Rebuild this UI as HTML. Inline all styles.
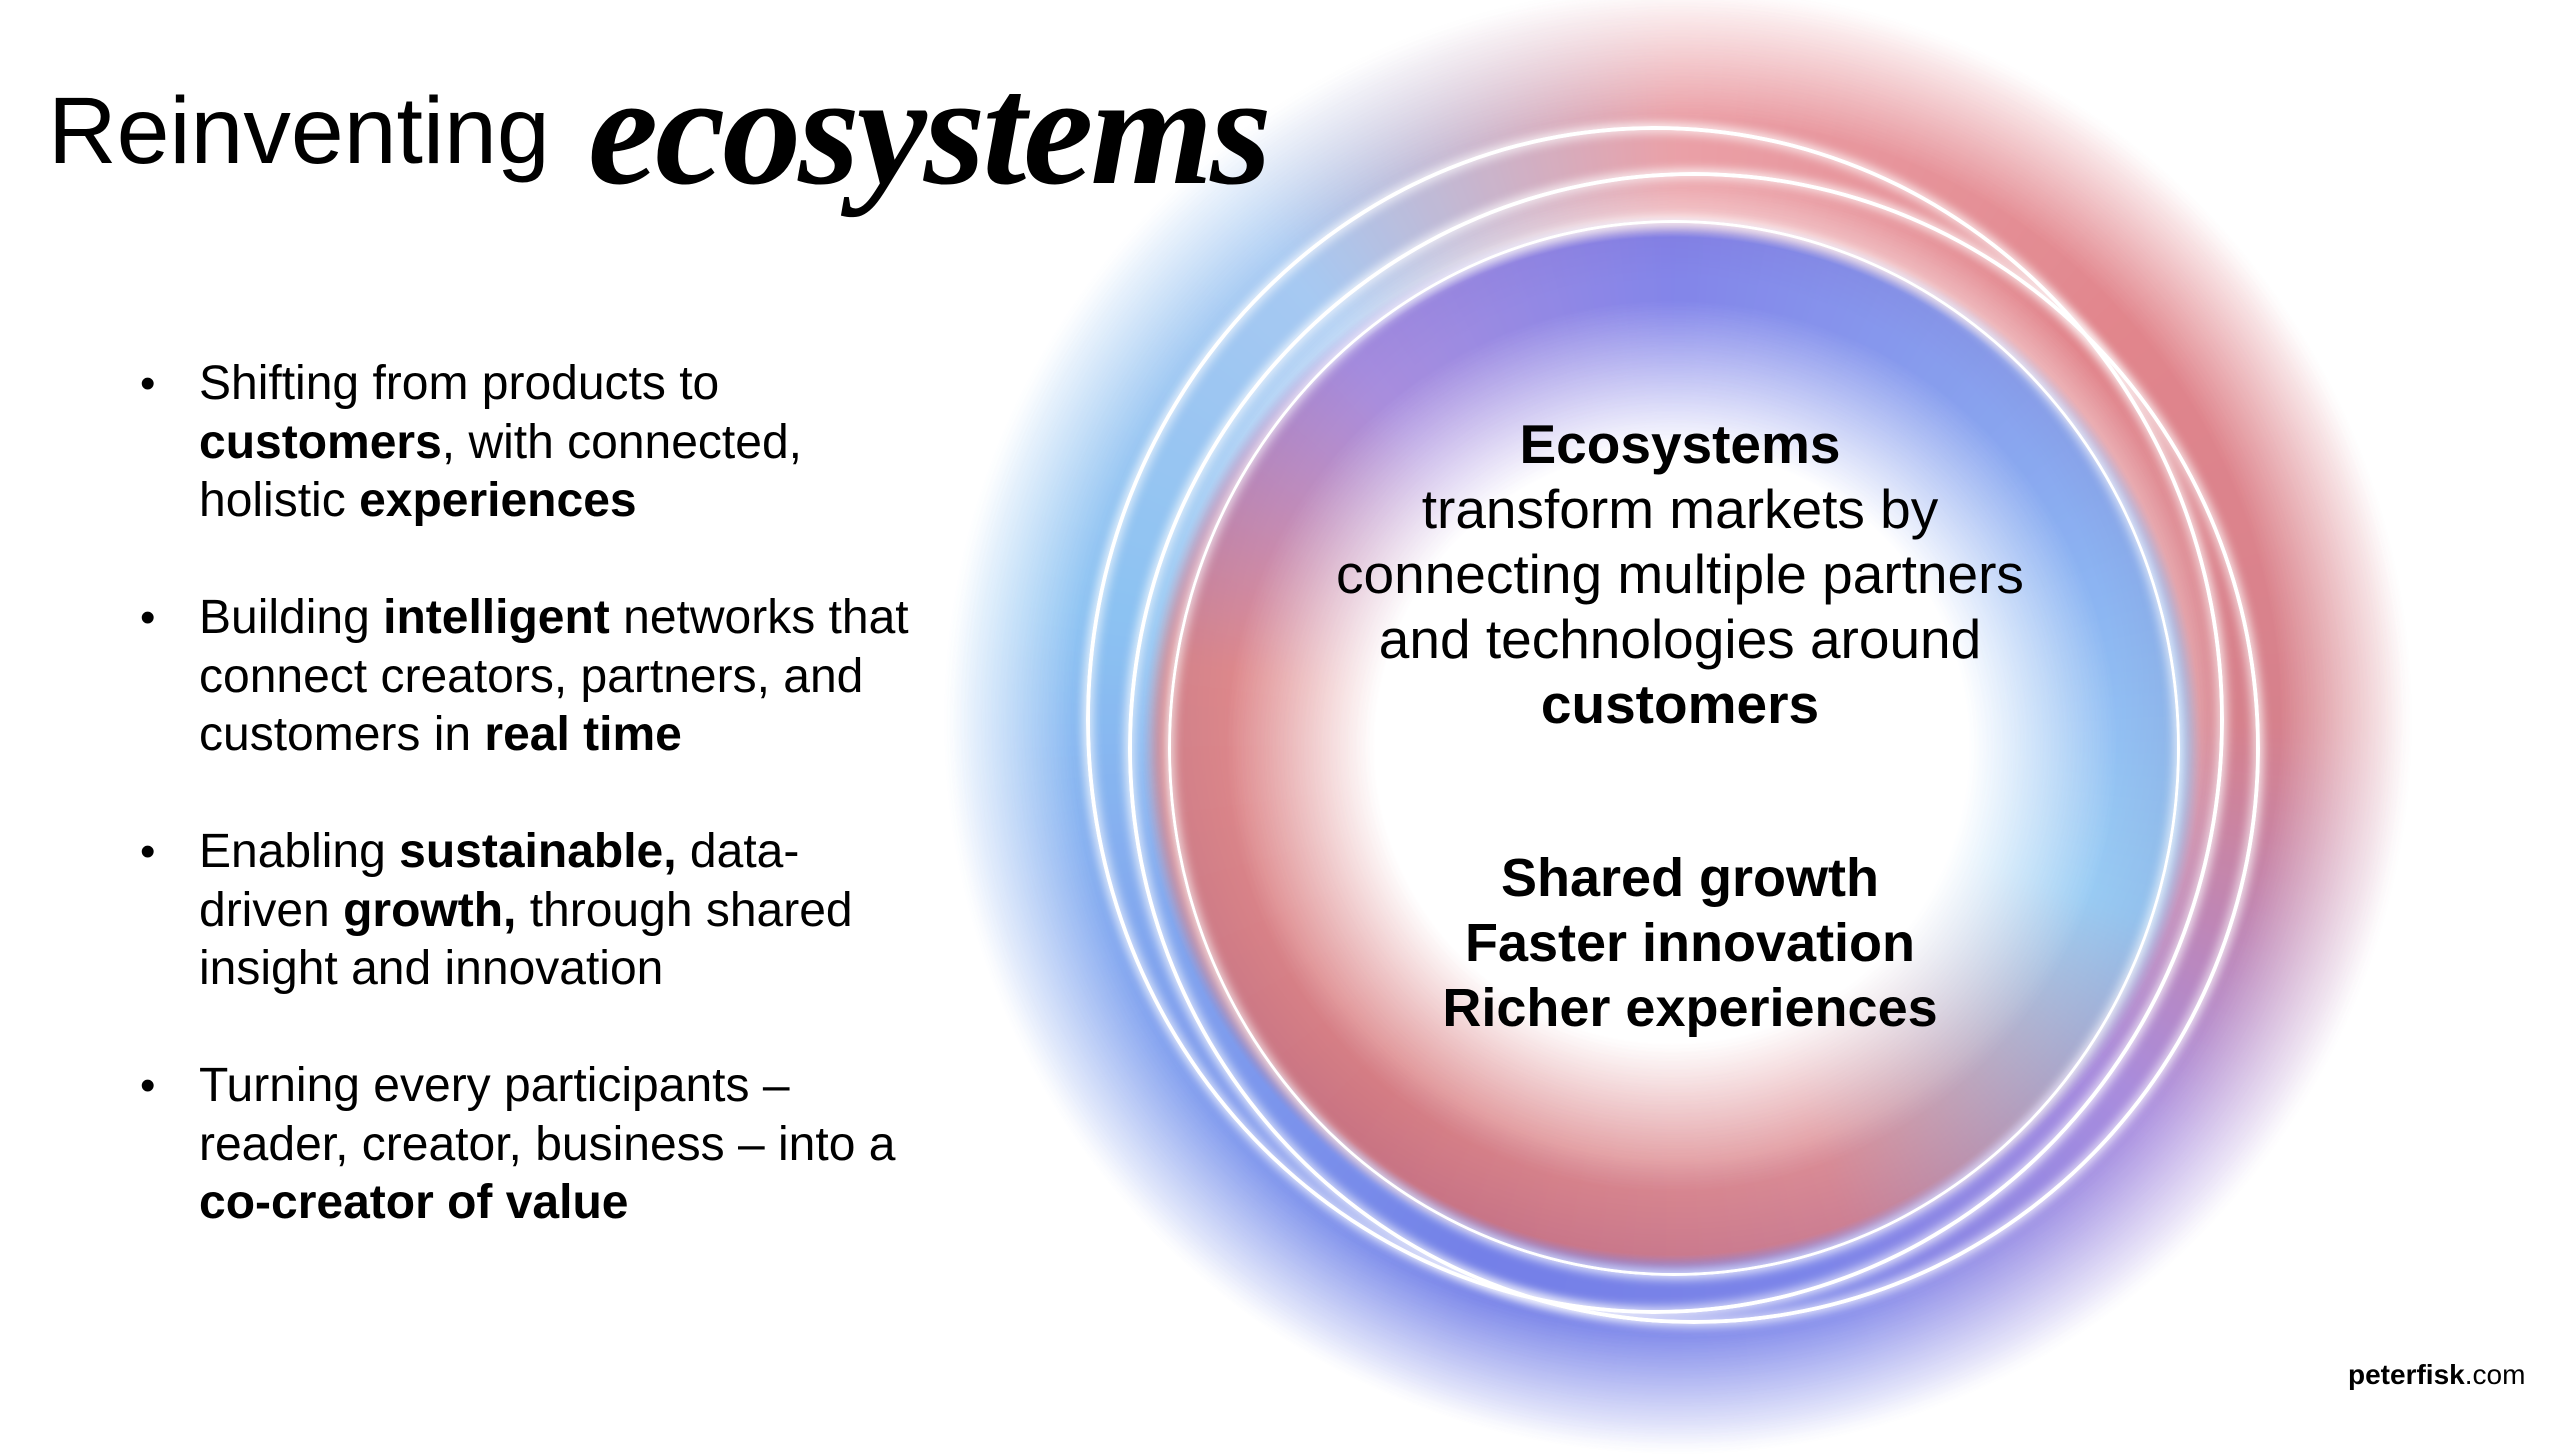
<!DOCTYPE html>
<html><head><meta charset="utf-8"><style>
html,body{margin:0;padding:0;background:#fff;}
body{width:2560px;height:1428px;position:relative;overflow:hidden;font-family:"Liberation Sans",sans-serif;color:#000;}
.abs{position:absolute;}
.band{position:absolute;border-radius:50%;}
.b1{left:943px;top:-15px;width:1470px;height:1470px;opacity:.85;
 background:conic-gradient(from 0deg,#e89098 0deg,#dc7078 50deg,#d06c78 90deg,#9a78d8 130deg,#6670e6 165deg,#5c6ae4 200deg,#6a90ec 240deg,#78b8f0 280deg,#98c0f0 320deg,#e89098 360deg);
 -webkit-mask:radial-gradient(circle closest-side,transparent 60%,#000 74%,#000 82%,transparent 100%);
 mask:radial-gradient(circle closest-side,transparent 60%,#000 74%,#000 82%,transparent 100%);
 filter:blur(14px);}
.b2{left:1142px;top:216px;width:1060px;height:1060px;opacity:.85;
 background:conic-gradient(from 0deg,#6e70e6 0deg,#78a8f0 70deg,#88c4f2 110deg,#d87c84 160deg,#d46c70 220deg,#d87478 280deg,#9a7ad8 320deg,#6e70e6 360deg);
 -webkit-mask:radial-gradient(circle closest-side,transparent 56%,#000 84%,#000 96%,transparent 100%);
 mask:radial-gradient(circle closest-side,transparent 56%,#000 84%,#000 96%,transparent 100%);
 filter:blur(8px);}
.ring{position:absolute;border-radius:50%;border:4px solid #fff;box-shadow:0 0 10px 3px rgba(255,255,255,.8),inset 0 0 10px 3px rgba(255,255,255,.7);}
.bul{position:absolute;left:140px;font-size:48px;line-height:58.5px;}
.bul .dot{position:absolute;left:0;top:0;font-size:44px;}
.bul .t{position:absolute;left:59px;top:0;white-space:nowrap;}
.ct{position:absolute;left:1280px;width:800px;text-align:center;font-size:55px;line-height:65px;}
</style></head><body>
<div class="band b1"></div>
<div class="band b2"></div>
<div class="ring" style="left:1086px;top:126px;width:1130px;height:1180px;"></div>
<div class="ring" style="left:1128px;top:172px;width:1124px;height:1144px;"></div>
<div class="ring" style="left:1168px;top:220px;width:1006px;height:1050px;border-width:3px;"></div>

<div class="abs" style="left:48px;top:66px;font-size:95px;line-height:130px;white-space:nowrap;">Reinventing</div>
<div class="abs" style="left:588px;top:52px;font-family:'Liberation Serif',serif;font-weight:bold;font-style:italic;font-size:158px;line-height:158px;white-space:nowrap;letter-spacing:-3px;">ecosystems</div>

<div class="bul" style="top:355px;"><span class="dot">•</span><span class="t">Shifting from products to<br><b>customers</b>, with connected,<br>holistic <b>experiences</b></span></div>
<div class="bul" style="top:589px;"><span class="dot">•</span><span class="t">Building <b>intelligent</b> networks that<br>connect creators, partners, and<br>customers in <b>real time</b></span></div>
<div class="bul" style="top:823px;"><span class="dot">•</span><span class="t">Enabling <b>sustainable,</b> data-<br>driven <b>growth,</b> through shared<br>insight and innovation</span></div>
<div class="bul" style="top:1057px;"><span class="dot">•</span><span class="t">Turning every participants –<br>reader, creator, business – into a<br><b>co-creator of value</b></span></div>

<div class="ct" style="top:412px;"><b>Ecosystems</b><br>transform markets by<br>connecting multiple partners<br>and technologies around<br><b>customers</b></div>
<div class="ct" style="top:846px;left:1290px;font-weight:bold;font-size:54px;">Shared growth<br>Faster innovation<br>Richer experiences</div>

<div class="abs" style="left:2348px;top:1358px;font-size:28px;line-height:34px;"><b>peterfisk</b>.com</div>
</body></html>
